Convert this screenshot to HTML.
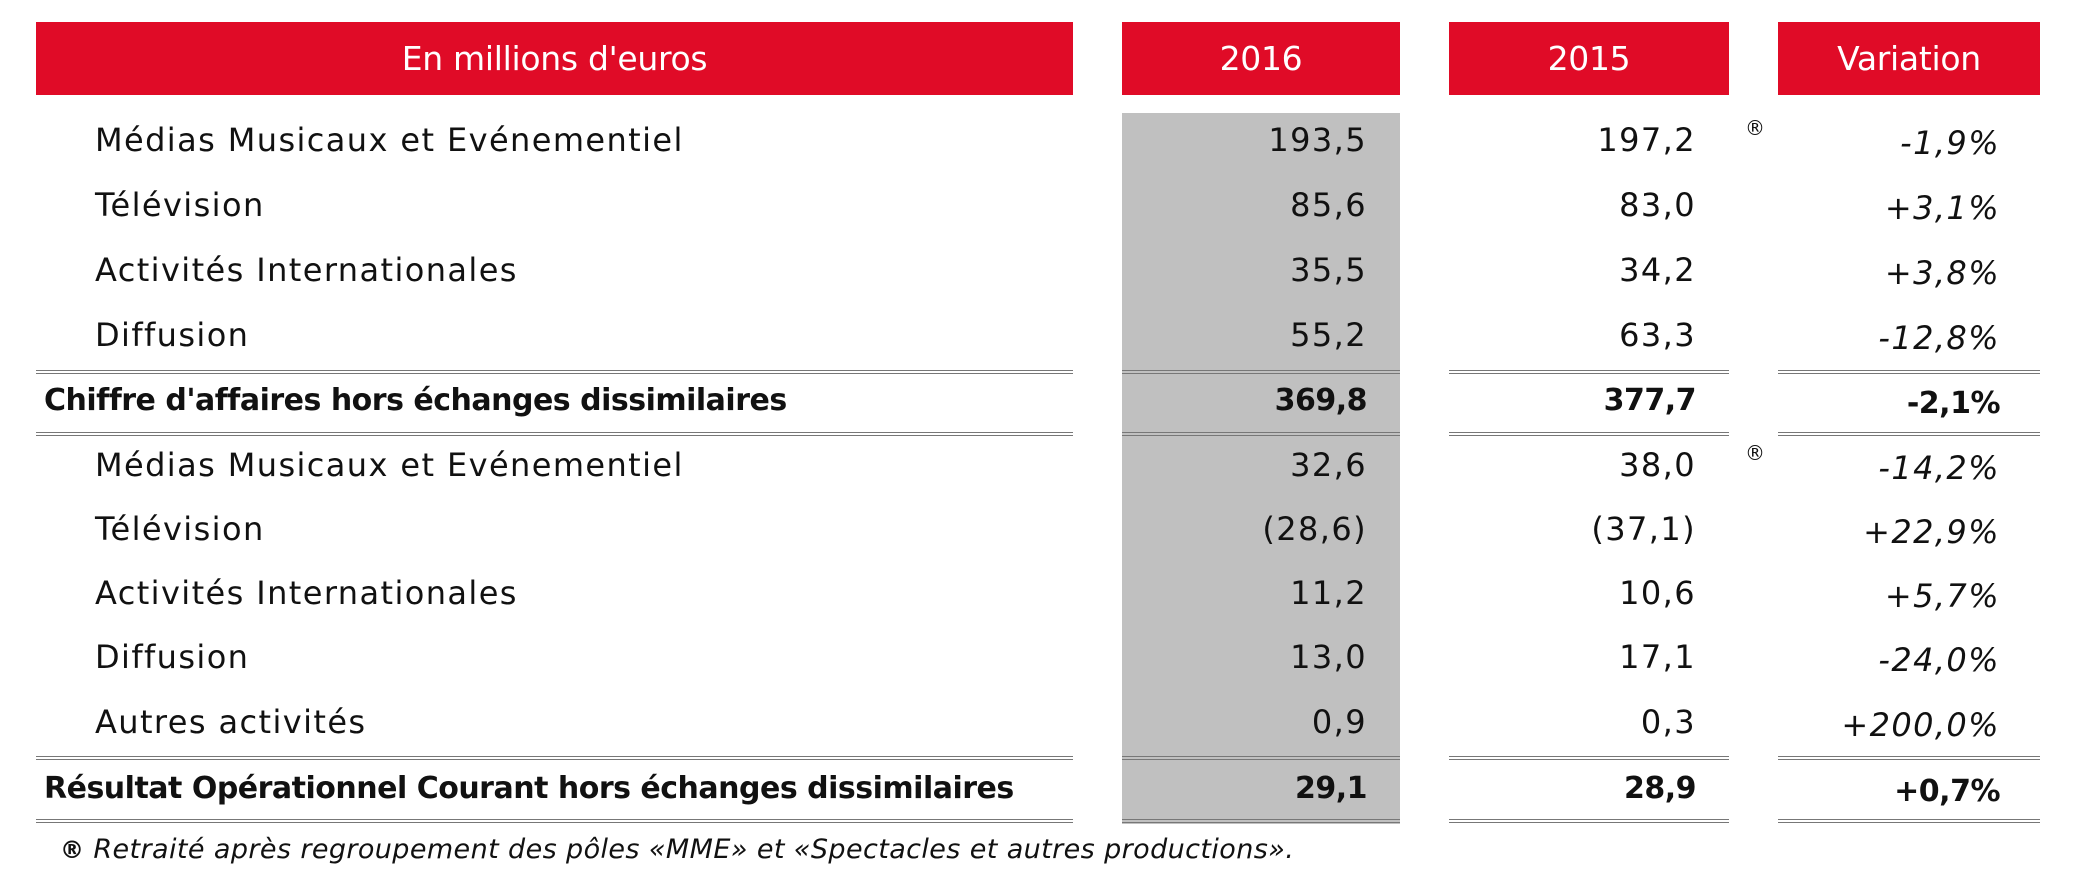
<!DOCTYPE html>
<html><head><meta charset="utf-8"><style>
body{margin:0;width:2077px;height:877px;background:#fff;position:relative;overflow:hidden;font-family:"DejaVu Sans","Liberation Sans",sans-serif;color:#111}
.h{position:absolute;top:22px;height:73px;background:#e00b27;color:#fff;font-size:33px;line-height:73px;text-align:center;letter-spacing:-0.3px}
.g{position:absolute;left:1122px;top:113px;width:278px;height:711px;background:#c0c0c0}
.t{position:absolute;font-size:32px;line-height:40px;white-space:nowrap;letter-spacing:1.4px}
.r{text-align:right}
.b{font-weight:bold;letter-spacing:-0.5px;font-size:30px}
.l{position:absolute;height:0;border-top:4px double #777}
.reg{position:absolute;font-size:20px}
</style></head><body>
<div class="h" style="left:36px;width:1037px">En millions d'euros</div>
<div class="h" style="left:1122px;width:278px">2016</div>
<div class="h" style="left:1449px;width:280px">2015</div>
<div class="h" style="left:1778px;width:262px">Variation</div>
<div class="g"></div>

<div id="rows"></div>
<script>
var rows=[
["Médias Musicaux et Evénementiel","193,5","197,2","-1,9%",140,0,1],
["Télévision","85,6","83,0","+3,1%",205,0,0],
["Activités Internationales","35,5","34,2","+3,8%",270,0,0],
["Diffusion","55,2","63,3","-12,8%",335,0,0],
["Chiffre d'affaires hors échanges dissimilaires","369,8","377,7","-2,1%",401,1,0],
["Médias Musicaux et Evénementiel","32,6","38,0","-14,2%",465,0,1],
["Télévision","(28,6)","(37,1)","+22,9%",529,0,0],
["Activités Internationales","11,2","10,6","+5,7%",593,0,0],
["Diffusion","13,0","17,1","-24,0%",657,0,0],
["Autres activités","0,9","0,3","+200,0%",722,0,0],
["Résultat Opérationnel Courant hors échanges dissimilaires","29,1","28,9","+0,7%",789,1,0]];
var h="";
rows.forEach(function(r){
var y=r[4]-20,b=r[5]?" b":"",it=r[5]?"":"font-style:italic;";
h+='<div class="t'+b+'" style="left:'+(r[5]?44:95)+'px;top:'+y+'px">'+r[0]+'</div>';
h+='<div class="t r'+b+'" style="right:'+(2077-1367)+'px;top:'+y+'px">'+r[1]+'</div>';
h+='<div class="t r'+b+'" style="right:'+(2077-1696)+'px;top:'+y+'px">'+r[2]+'</div>';
h+='<div class="t r'+b+'" style="right:'+(2077-2000)+'px;top:'+(y+3)+'px;'+it+'">'+r[3]+'</div>';
if(r[6])h+='<div class="reg" style="left:1745px;top:'+(y-4)+'px">®</div>';
});
[372,434,758,821].forEach(function(y){
[[36,1073],[1122,1400],[1449,1729],[1778,2040]].forEach(function(c){
h+='<div class="l" style="left:'+c[0]+'px;width:'+(c[1]-c[0])+'px;top:'+(y-2)+'px"></div>';});});
document.getElementById("rows").innerHTML=h;
</script>
<div class="t" style="left:60px;top:832px;font-size:27px;font-style:italic;line-height:36px;letter-spacing:0.4px"><b style="font-style:normal;font-size:24px;vertical-align:top">®</b> Retraité après regroupement des pôles «MME» et «Spectacles et autres productions».</div>
</body></html>
